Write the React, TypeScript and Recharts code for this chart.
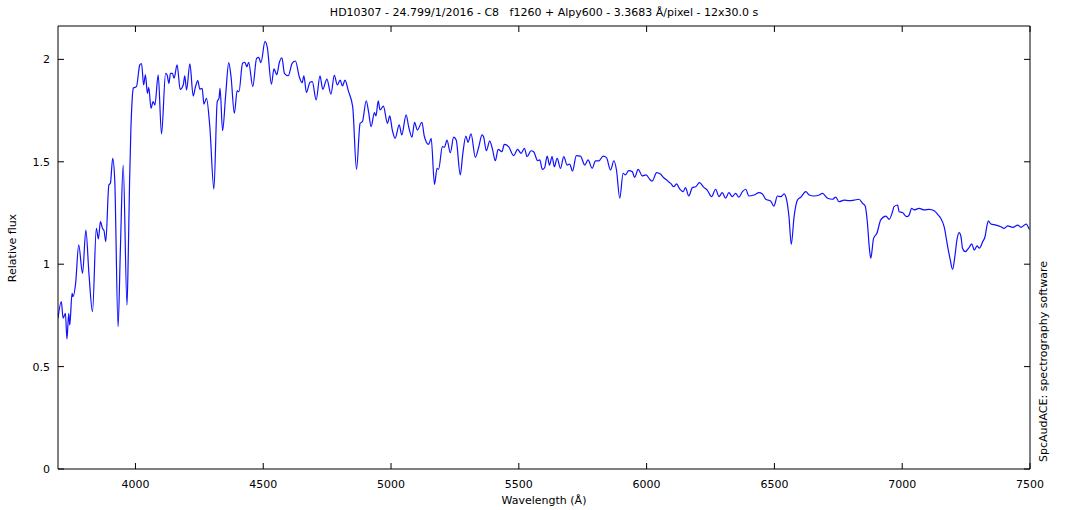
import React from "react";
import { LineChart, Line, XAxis, YAxis } from "recharts";

const wavelengths = [
  3697, 3710, 3717, 3726, 3732, 3739, 3743, 3752, 3756, 3766, 3778, 3793, 3806, 3818, 3832, 3847, 3855, 3863, 3871, 3877,
  3884, 3896, 3902, 3911, 3919, 3932, 3941, 3952, 3967, 3972, 3977, 3982, 3987, 3992, 4004, 4017, 4024, 4032, 4039, 4047,
  4052, 4061, 4069, 4076, 4089, 4102, 4118, 4124, 4131, 4137, 4145, 4151, 4163, 4175, 4187, 4193, 4200, 4213, 4226, 4235,
  4244, 4252, 4261, 4268, 4278, 4291, 4307, 4320, 4327, 4331, 4341, 4353, 4365, 4374, 4387, 4398, 4405, 4419, 4428, 4436,
  4443, 4459, 4474, 4482, 4491, 4507, 4516, 4532, 4542, 4553, 4563, 4573, 4583, 4598, 4613, 4626, 4641, 4652, 4659, 4669,
  4683, 4692, 4707, 4722, 4733, 4749, 4765, 4778, 4790, 4801, 4810, 4820, 4833, 4850, 4865, 4879, 4888, 4903, 4912, 4922,
  4935, 4941, 4950, 4957, 4970, 4986, 4995, 5005, 5016, 5032, 5042, 5059, 5069, 5082, 5092, 5103, 5121, 5130, 5147, 5157,
  5170, 5180, 5186, 5201, 5209, 5219, 5232, 5245, 5255, 5271, 5281, 5293, 5301, 5313, 5330, 5343, 5356, 5362, 5373, 5386,
  5397, 5408, 5419, 5434, 5443, 5460, 5480, 5495, 5509, 5522, 5532, 5548, 5558, 5574, 5582, 5592, 5601, 5611, 5620, 5630,
  5639, 5650, 5663, 5676, 5689, 5699, 5710, 5725, 5741, 5758, 5771, 5787, 5800, 5813, 5830, 5843, 5859, 5872, 5882, 5895,
  5908, 5917, 5930, 5944, 5953, 5967, 5983, 5998, 6012, 6022, 6039, 6054, 6067, 6081, 6096, 6106, 6117, 6130, 6143, 6152,
  6165, 6179, 6192, 6207, 6224, 6237, 6254, 6270, 6283, 6296, 6309, 6322, 6335, 6348, 6361, 6375, 6388, 6400, 6420, 6440,
  6453, 6466, 6485, 6498, 6512, 6525, 6538, 6548, 6557, 6566, 6577, 6590, 6603, 6623, 6636, 6655, 6675, 6688, 6708, 6727,
  6740, 6753, 6773, 6792, 6812, 6831, 6845, 6855, 6864, 6871, 6877, 6888, 6901, 6916, 6936, 6949, 6962, 6968, 6982, 6988,
  7001, 7018, 7027, 7037, 7047, 7066, 7086, 7106, 7125, 7141, 7151, 7164, 7178, 7188, 7197, 7206, 7214, 7223, 7230, 7236,
  7247, 7262, 7272, 7282, 7293, 7302, 7315, 7324, 7332, 7337, 7347, 7367, 7386, 7399, 7413, 7433, 7452, 7465, 7485, 7497,
];

const flux = [
  0.736, 0.817, 0.736, 0.76, 0.635, 0.76, 0.703, 0.858, 0.841, 0.907, 1.094, 0.955, 1.167, 0.955, 0.768, 1.175, 1.123, 1.208, 1.175, 1.164,
  1.11, 1.387, 1.395, 1.517, 1.411, 0.695, 1.069, 1.484, 0.8, 1.05, 1.4, 1.65, 1.8, 1.86, 1.867, 1.973, 1.98, 1.875, 1.924, 1.834,
  1.864, 1.761, 1.794, 1.777, 1.924, 1.636, 1.932, 1.924, 1.883, 1.932, 1.932, 1.908, 1.973, 1.854, 1.875, 1.919, 1.851, 1.978, 1.821, 1.867,
  1.896, 1.854, 1.859, 1.782, 1.81, 1.671, 1.366, 1.794, 1.81, 1.859, 1.652, 1.826, 1.984, 1.915, 1.737, 1.847, 1.842, 1.981, 1.986, 1.964,
  1.986, 1.867, 2.005, 2.01, 1.984, 2.088, 2.058, 1.879, 1.954, 1.925, 1.985, 2.008, 1.932, 1.92, 1.981, 1.992, 1.915, 1.886, 1.919, 1.839,
  1.888, 1.891, 1.802, 1.919, 1.854, 1.904, 1.83, 1.922, 1.875, 1.899, 1.87, 1.899, 1.846, 1.769, 1.463, 1.688, 1.696, 1.798, 1.745, 1.671,
  1.74, 1.724, 1.798, 1.753, 1.772, 1.688, 1.724, 1.655, 1.615, 1.68, 1.631, 1.729, 1.671, 1.62, 1.693, 1.655, 1.693, 1.626, 1.585, 1.615,
  1.39, 1.468, 1.463, 1.574, 1.571, 1.606, 1.544, 1.62, 1.606, 1.436, 1.541, 1.626, 1.595, 1.636, 1.522, 1.571, 1.631, 1.622, 1.554, 1.601,
  1.561, 1.505, 1.561, 1.549, 1.585, 1.574, 1.53, 1.561, 1.541, 1.566, 1.525, 1.554, 1.549, 1.505, 1.509, 1.463, 1.471, 1.528, 1.484, 1.525,
  1.476, 1.517, 1.468, 1.525, 1.484, 1.489, 1.455, 1.53, 1.528, 1.484, 1.509, 1.468, 1.504, 1.504, 1.528, 1.52, 1.46, 1.505, 1.46, 1.322,
  1.444, 1.436, 1.457, 1.452, 1.424, 1.463, 1.431, 1.436, 1.415, 1.406, 1.447, 1.44, 1.422, 1.408, 1.392, 1.378, 1.392, 1.366, 1.354, 1.374,
  1.333, 1.374, 1.378, 1.398, 1.375, 1.362, 1.33, 1.366, 1.33, 1.349, 1.322, 1.349, 1.33, 1.346, 1.327, 1.354, 1.366, 1.333, 1.338, 1.349,
  1.343, 1.317, 1.309, 1.284, 1.333, 1.33, 1.343, 1.313, 1.232, 1.097, 1.232, 1.313, 1.327, 1.354, 1.338, 1.333, 1.338, 1.346, 1.322, 1.317,
  1.327, 1.305, 1.313, 1.31, 1.313, 1.317, 1.297, 1.284, 1.2, 1.085, 1.029, 1.126, 1.151, 1.216, 1.235, 1.219, 1.256, 1.281, 1.289, 1.256,
  1.252, 1.232, 1.24, 1.273, 1.265, 1.273, 1.265, 1.268, 1.261, 1.24, 1.224, 1.183, 1.085, 1.021, 0.975, 1.037, 1.118, 1.154, 1.134, 1.078,
  1.061, 1.082, 1.099, 1.069, 1.089, 1.078, 1.11, 1.134, 1.191, 1.212, 1.196, 1.191, 1.183, 1.175, 1.187, 1.18, 1.191, 1.18, 1.196, 1.17,
];

const xTicks = [4000, 4500, 5000, 5500, 6000, 6500, 7000, 7500];
const yTicks = [0, 0.5, 1, 1.5, 2];
const xDomain = [3697, 7500];
const yDomain = [0, 2.163];

const titleText = "HD10307 - 24.799/1/2016 - C8   f1260 + Alpy600 - 3.3683 Å/pixel - 12x30.0 s";
const xLabel = "Wavelength (Å)";
const yLabel = "Relative flux";
const sideText = "SpcAudACE: spectrography software";

const data = wavelengths.map((w, i) => ({ w, f: flux[i] }));

const FONT = "'DejaVu Sans', Verdana, sans-serif";
const TL = 6;

const BottomTick = (props: any) => {
  const { x, y, payload } = props;
  return (
    <g>
      <line x1={x} y1={y} x2={x} y2={y - TL} stroke="#000" strokeWidth={1} />
      <text x={x} y={y + 19} textAnchor="middle" fontSize={11} fontFamily={FONT} fill="#000">
        {payload.value}
      </text>
    </g>
  );
};

const TopTick = (props: any) => {
  const { x, y } = props;
  return <line x1={x} y1={y} x2={x} y2={y + TL} stroke="#000" strokeWidth={1} />;
};

const LeftTick = (props: any) => {
  const { x, y, payload } = props;
  return (
    <g>
      <line x1={x} y1={y} x2={x + TL} y2={y} stroke="#000" strokeWidth={1} />
      <text x={x - 8} y={y + 4} textAnchor="end" fontSize={11} fontFamily={FONT} fill="#000">
        {payload.value}
      </text>
    </g>
  );
};

const RightTick = (props: any) => {
  const { x, y } = props;
  return <line x1={x} y1={y} x2={x - TL} y2={y} stroke="#000" strokeWidth={1} />;
};

export default function App() {
  return (
    <div style={{ position: "absolute", left: 0, top: 0, width: 1070, height: 510, background: "#fff", fontFamily: FONT }}>
      <LineChart width={1070} height={510} data={data} margin={{ top: 0, right: 0, bottom: 0, left: 0 }}>
        <XAxis
          xAxisId="b"
          dataKey="w"
          type="number"
          domain={xDomain}
          allowDataOverflow
          ticks={xTicks}
          interval={0}
          height={41}
          tickSize={0}
          tickMargin={0}
          tickLine={false}
          axisLine={{ stroke: "#000", strokeWidth: 1 }}
          tick={<BottomTick />}
        />
        <XAxis
          xAxisId="t"
          orientation="top"
          dataKey="w"
          type="number"
          domain={xDomain}
          allowDataOverflow
          ticks={xTicks}
          interval={0}
          height={26}
          tickSize={0}
          tickMargin={0}
          tickLine={false}
          axisLine={{ stroke: "#000", strokeWidth: 1 }}
          tick={<TopTick />}
        />
        <YAxis
          yAxisId="l"
          type="number"
          domain={yDomain}
          allowDataOverflow
          ticks={yTicks}
          interval={0}
          width={58}
          tickSize={0}
          tickMargin={0}
          tickLine={false}
          axisLine={{ stroke: "#000", strokeWidth: 1 }}
          tick={<LeftTick />}
        />
        <YAxis
          yAxisId="r"
          orientation="right"
          type="number"
          domain={yDomain}
          allowDataOverflow
          ticks={yTicks}
          interval={0}
          width={40}
          tickSize={0}
          tickMargin={0}
          tickLine={false}
          axisLine={{ stroke: "#000", strokeWidth: 1 }}
          tick={<RightTick />}
        />
        <Line
          xAxisId="b"
          yAxisId="l"
          dataKey="f"
          type="monotone"
          stroke="#1010ff"
          strokeWidth={1.2}
          dot={false}
          activeDot={false}
          isAnimationActive={false}
        />
      </LineChart>
      <div
        style={{
          position: "absolute",
          left: 0,
          width: 1088,
          top: 6,
          textAlign: "center",
          fontSize: 11,
          whiteSpace: "pre",
          color: "#000",
        }}
      >
        {titleText}
      </div>
      <div
        style={{
          position: "absolute",
          left: 0,
          width: 1088,
          top: 494,
          textAlign: "center",
          fontSize: 11,
          color: "#000",
        }}
      >
        {xLabel}
      </div>
      <div
        style={{
          position: "absolute",
          left: 12,
          top: 248,
          fontSize: 11,
          color: "#000",
          whiteSpace: "nowrap",
          transform: "translate(-50%, -50%) rotate(-90deg)",
        }}
      >
        {yLabel}
      </div>
      <div
        style={{
          position: "absolute",
          left: 1043,
          top: 462,
          fontSize: 11,
          color: "#000",
          whiteSpace: "nowrap",
          transformOrigin: "0 0",
          transform: "rotate(-90deg) translate(0, -50%)",
        }}
      >
        {sideText}
      </div>
    </div>
  );
}
